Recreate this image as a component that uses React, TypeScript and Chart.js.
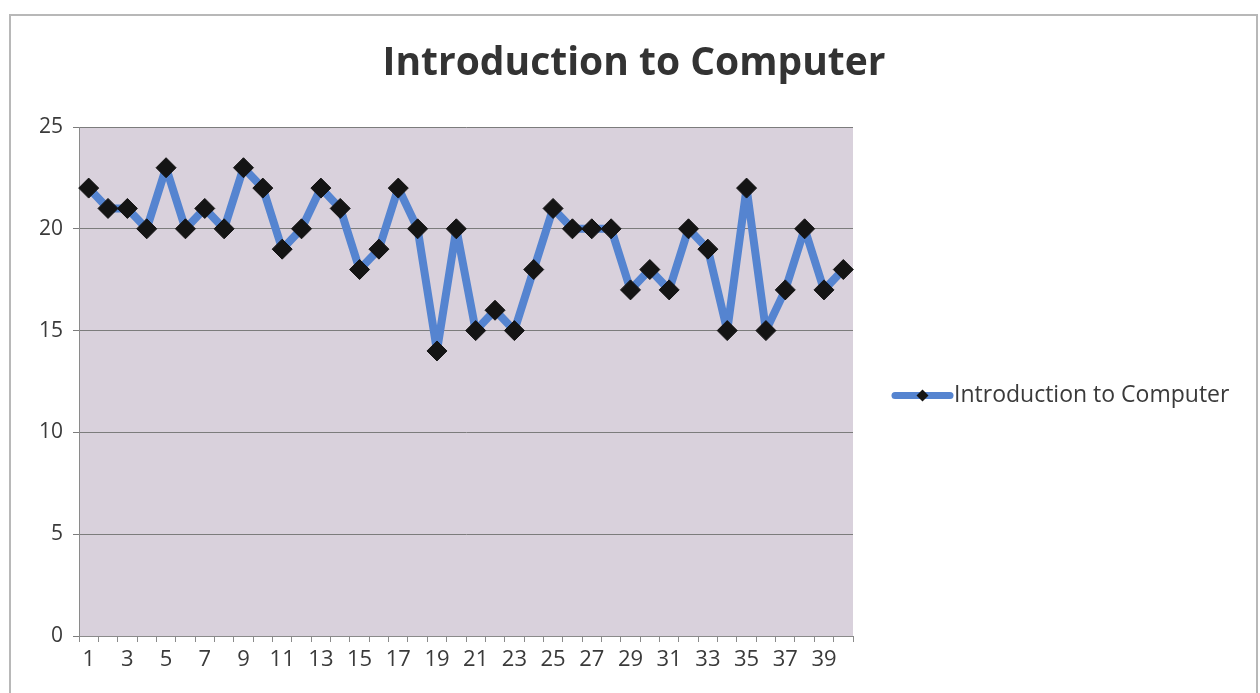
import React, { useEffect, useRef } from "react";
import { Chart, registerables } from "chart.js";

Chart.register(...registerables);

const TITLE = "Introduction to Computer";
const SERIES_NAME = "Introduction to Computer";
const categories: string[] = Array.from({ length: 40 }, (_, i) => String(i + 1));
const scores: number[] = [
  22, 21, 21, 20, 23, 20, 21, 20, 23, 22,
  19, 20, 22, 21, 18, 19, 22, 20, 14, 20,
  15, 16, 15, 18, 21, 20, 20, 20, 17, 18,
  17, 20, 19, 15, 22, 15, 17, 20, 17, 18,
];
const yTicks: number[] = [0, 5, 10, 15, 20, 25];

const LINE_COLOR = "#5584d0";
const MARKER_COLOR = "#141414";
const PLOT_BG = "#d9d1dc";
const TEXT_COLOR = "#3a3a3a";
const FONT = "'Open Sans', 'Noto Sans', sans-serif";

const decorPlugin = {
  id: "decor",
  beforeDraw(chart: any) {
    const { ctx, chartArea } = chart;
    ctx.save();
    ctx.fillStyle = "#ffffff";
    ctx.fillRect(0, 0, chart.width, chart.height);
    // outer frame
    ctx.strokeStyle = "#b8b8b8";
    ctx.lineWidth = 2;
    ctx.strokeRect(10, 15, 1247, 700);
    // plot background
    ctx.fillStyle = PLOT_BG;
    ctx.fillRect(chartArea.left, chartArea.top, chartArea.right - chartArea.left, chartArea.bottom - chartArea.top);
    ctx.restore();
  },
  afterDraw(chart: any) {
    const { ctx, chartArea } = chart;
    const ds = chart.data.datasets[0];
    ctx.save();
    // title
    ctx.fillStyle = "#333333";
    ctx.font = `bold 39px ${FONT}`;
    ctx.textAlign = "center";
    ctx.textBaseline = "middle";
    ctx.fillText(TITLE, 634, 64);
    // legend
    const y = (chartArea.top + chartArea.bottom) / 2 + 14;
    const x0 = chartArea.right + 42;
    const x1 = x0 + 55;
    ctx.strokeStyle = ds.borderColor;
    ctx.lineWidth = 7;
    ctx.lineCap = "round";
    ctx.beginPath();
    ctx.moveTo(x0, y);
    ctx.lineTo(x1, y);
    ctx.stroke();
    const cx = (x0 + x1) / 2;
    const r = 6;
    ctx.fillStyle = ds.pointBackgroundColor;
    ctx.beginPath();
    ctx.moveTo(cx, y - r);
    ctx.lineTo(cx + r, y);
    ctx.lineTo(cx, y + r);
    ctx.lineTo(cx - r, y);
    ctx.closePath();
    ctx.fill();
    ctx.fillStyle = TEXT_COLOR;
    ctx.font = `23px ${FONT}`;
    ctx.textAlign = "left";
    ctx.textBaseline = "middle";
    ctx.fillText(ds.label, x1 + 4, y);
    ctx.restore();
  },
};

export default function App() {
  const canvasRef = useRef<HTMLCanvasElement | null>(null);

  useEffect(() => {
    if (!canvasRef.current) return;
    const chart = new Chart(canvasRef.current, {
      type: "line",
      data: {
        labels: categories,
        datasets: [
          {
            label: SERIES_NAME,
            data: scores,
            borderColor: LINE_COLOR,
            backgroundColor: LINE_COLOR,
            borderWidth: 8,
            borderJoinStyle: "round",
            borderCapStyle: "round",
            tension: 0,
            pointStyle: "rectRot",
            pointRadius: 10,
            pointHoverRadius: 10,
            pointBackgroundColor: MARKER_COLOR,
            pointBorderColor: MARKER_COLOR,
            pointBorderWidth: 1,
          },
        ],
      },
      options: {
        responsive: false,
        animation: false,
        events: [],
        layout: { padding: { left: 10, right: 407, top: 127, bottom: 15 } },
        plugins: {
          legend: { display: false },
          tooltip: { enabled: false },
          title: { display: false },
        },
        scales: {
          x: {
            type: "category",
            offset: true,
            afterFit(scale: any) {
              scale.height = 42;
            },
            grid: {
              display: true,
              offset: true,
              drawOnChartArea: false,
              drawTicks: true,
              tickLength: 6,
              color: "#8a8a8a",
            },
            border: { display: true, color: "#8a8a8a", width: 1 },
            ticks: {
              autoSkip: false,
              maxRotation: 0,
              minRotation: 0,
              color: TEXT_COLOR,
              font: { family: FONT, size: 22 },
              padding: 5,
              callback: (_v: any, i: number) => (i % 2 === 0 ? categories[i] : ""),
            },
          },
          y: {
            min: 0,
            max: 25,
            afterFit(scale: any) {
              scale.width = 69;
            },
            afterBuildTicks(scale: any) {
              scale.ticks = yTicks.map((v) => ({ value: v }));
            },
            grid: {
              color: "#7c7c7c",
              lineWidth: 1,
              drawTicks: true,
              tickLength: 6,
            },
            border: { display: true, color: "#8a8a8a", width: 1 },
            ticks: {
              color: TEXT_COLOR,
              font: { family: FONT, size: 21 },
              padding: 10,
            },
          },
        },
      },
      plugins: [decorPlugin],
    });
    return () => chart.destroy();
  }, []);

  return (
    <div style={{ position: "absolute", left: 0, top: 0, width: 1260, height: 693, background: "#fff" }}>
      <canvas ref={canvasRef} width={1260} height={693} style={{ display: "block" }} />
    </div>
  );
}
